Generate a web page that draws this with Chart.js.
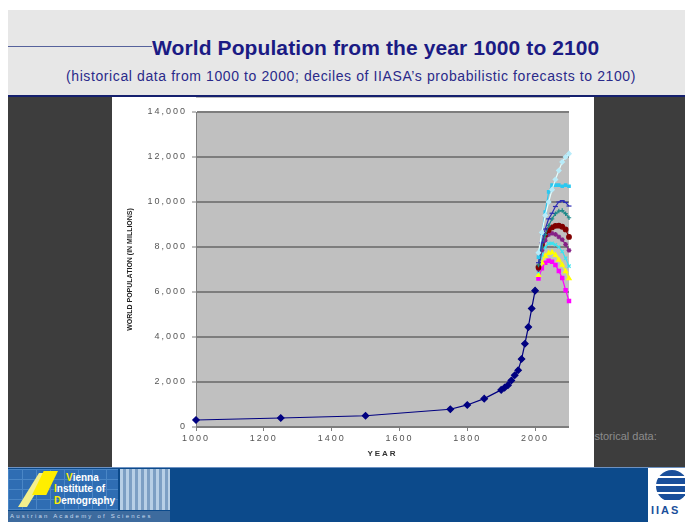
<!DOCTYPE html>
<html>
<head>
<meta charset="utf-8">
<script src="https://cdn.jsdelivr.net/npm/chart.js@4.4.1/dist/chart.umd.min.js"></script>
<style>
html,body{margin:0;padding:0;}
body{width:685px;height:522px;position:relative;overflow:hidden;background:#ffffff;font-family:"Liberation Sans",Arial,sans-serif;}
.abs{position:absolute;}
#header{left:8px;top:10px;width:677px;height:85px;background:#e7e7e7;}
#hline{left:8px;top:46px;width:144px;height:1px;background:#56629c;}
#title{left:152px;top:36px;font-size:21px;font-weight:bold;color:#1b1b84;white-space:nowrap;line-height:24px;letter-spacing:0.1px;}
#subtitle{left:66px;top:68px;font-size:14px;color:#2a2a8a;white-space:nowrap;line-height:16px;letter-spacing:0.6px;}
#band{left:8px;top:95px;width:677px;height:2px;background:#15206e;}
#body{left:8px;top:97px;width:677px;height:370px;background:#3d3d3d;}
#hist{left:584px;top:430px;font-size:11px;color:#8c8c8c;white-space:nowrap;}
#panel{left:112px;top:97px;width:482px;height:370px;background:#ffffff;}
#chart{position:absolute;left:0;top:0;}
#footer{left:8px;top:467px;width:677px;height:55px;background:#0c4a8b;border-top:1px solid #6d92c2;box-sizing:border-box;}
#vid{left:8px;top:469px;width:110px;height:41px;background:#2f6db3;overflow:hidden;
  background-image:linear-gradient(#4a86c6 1px,transparent 1px),linear-gradient(90deg,#4a86c6 1px,transparent 1px);background-size:100% 10px,14px 100%;}
#y1{left:10px;top:4px;width:30px;height:34px;background:#f4ef8c;clip-path:polygon(0 100%,70% 0,100% 0,30% 100%);}
#y2{left:24px;top:2px;width:26px;height:24px;background:#ffee00;clip-path:polygon(0 100%,45% 0,100% 0,55% 100%);}
.vt{left:46px;font-size:10px;font-weight:bold;color:#ffffff;white-space:nowrap;line-height:11px;}
.vt b{color:#ffee00;}
#bld{left:120px;top:469px;width:50px;height:41px;background:#8eaed0;
  background-image:repeating-linear-gradient(90deg,#b8cfe6 0 3px,#7d9fc4 3px 6px);}
#aas{left:8px;top:511px;width:162px;height:11px;background:#3d6b9e;color:#c9dbee;font-size:6px;letter-spacing:2.2px;line-height:11px;white-space:nowrap;overflow:hidden;padding-left:2px;box-sizing:border-box;}
#iiasa{left:648px;top:468px;width:37px;height:54px;background:#ffffff;overflow:hidden;}
#globe{left:8px;top:2px;width:32px;height:32px;border-radius:50%;background:#1a4f9b;
  background-image:repeating-linear-gradient(180deg,#1a4f9b 0 6px,#ffffff 6px 8px);}
#iiasaT{left:3px;top:36px;font-size:11px;color:#1a4f9b;letter-spacing:2px;font-weight:bold;}
</style>
</head>
<body>
<div id="header" class="abs"></div>
<div id="hline" class="abs"></div>
<div id="title" class="abs">World Population from the year 1000 to 2100</div>
<div id="subtitle" class="abs">(historical data from 1000 to 2000; deciles of IIASA’s probabilistic forecasts to 2100)</div>
<div id="band" class="abs"></div>
<div id="body" class="abs"></div>
<div id="hist" class="abs">Historical data:</div>
<div id="panel" class="abs"><canvas id="chart" width="482" height="370"></canvas></div>
<div id="footer" class="abs"></div>
<div id="vid" class="abs">
  <div id="y1" class="abs"></div>
  <div id="y2" class="abs"></div>
  <div class="abs vt" style="left:58px;top:3px;"><b>V</b>ienna</div>
  <div class="abs vt" style="top:14px;"><b>I</b>nstitute of</div>
  <div class="abs vt" style="top:26px;"><b>D</b>emography</div>
</div>
<div id="bld" class="abs"></div>
<div id="aas" class="abs">Austrian Academy of Sciences</div>
<div id="iiasa" class="abs"><div id="globe" class="abs"></div><div id="iiasaT" class="abs">IIAS</div></div>

<script>
// ---- data ----
const historicalYears = [1000,1250,1500,1750,1800,1850,1900,1910,1920,1930,1940,1950,1960,1970,1980,1990,2000];
const historicalPop   = [310,400,500,790,980,1260,1650,1750,1860,2070,2300,2520,3020,3700,4440,5270,6060];

const forecastYears = [2010,2020,2030,2040,2050,2060,2070,2080,2090,2100];
const decile10 = [6600,7050,7300,7390,7340,7200,6930,6620,6080,5600];
const decile20 = [6750,7300,7600,7730,7760,7640,7430,7200,6920,6600];
const decile30 = [6900,7650,8000,8150,8160,8100,8000,7800,7500,7150];
const decile40 = [7000,7850,8300,8550,8610,8560,8450,8330,8120,7850];
const decile50 = [7100,8100,8550,8750,8870,8940,8950,8900,8780,8450];
const decile60 = [7200,8000,8550,8950,9250,9480,9600,9620,9480,9300];
const decile70 = [7300,8200,8800,9250,9500,9800,10000,10060,9980,9820];
const decile80 = [7550,8600,9550,10450,10750,10750,10750,10700,10750,10700];
const decile90 = [7750,8650,9400,10000,10550,11000,11400,11780,12000,12150];

const xTickValues = [1000,1200,1400,1600,1800,2000];
const yTickValues = [0,2000,4000,6000,8000,10000,12000,14000];
const xAxisTitle = 'YEAR';
const yAxisTitle = 'WORLD POPULATION (IN MILLIONS)';

// ---- helpers ----
const pts = (xs, ys) => xs.map((x, i) => ({x: x, y: ys[i]}));
function series(label, xs, ys, color, style, radius, pointColor) {
  return {
    label: label,
    data: pts(xs, ys),
    borderColor: color,
    backgroundColor: pointColor || color,
    pointBorderColor: pointColor || color,
    pointBackgroundColor: pointColor || color,
    pointStyle: style,
    pointRadius: radius,
    pointBorderWidth: 1.2,
    borderWidth: 1.2,
    tension: 0,
    fill: false,
    clip: false
  };
}

const plotBg = {
  id: 'plotBg',
  beforeDraw(c) {
    const a = c.chartArea, ctx = c.ctx;
    ctx.save();
    ctx.fillStyle = '#c0c0c0';
    ctx.fillRect(a.left, a.top, a.right - a.left, a.bottom - a.top);
    ctx.restore();
  }
};
const spacing = {
  id: 'spacing',
  afterDatasetsDraw(c) { c.ctx.letterSpacing = '2px'; },
  afterDraw(c) { c.ctx.letterSpacing = '0px'; }
};

new Chart(document.getElementById('chart'), {
  type: 'line',
  data: {
    datasets: [
      series('Historical', historicalYears, historicalPop, '#000080', 'rectRot', 3.2),
      series('90%', forecastYears, decile90, '#e4ffff', 'rectRot', 2.2, '#b8ecfa'),
      series('80%', forecastYears, decile80, '#2cc8f0', 'rect', 1.7),
      series('70%', forecastYears, decile70, '#2c2cb4', 'line', 2.5),
      series('60%', forecastYears, decile60, '#1f8a8a', 'cross', 2.2),
      series('50%', forecastYears, decile50, '#800000', 'circle', 2.3),
      series('40%', forecastYears, decile40, '#862286', 'star', 2.4),
      series('30%', forecastYears, decile30, '#38e4f0', 'crossRot', 2.3),
      series('20%', forecastYears, decile20, '#ffff00', 'triangle', 2.5),
      series('10%', forecastYears, decile10, '#ff00ff', 'rect', 2.3)
    ]
  },
  options: {
    responsive: false,
    animation: false,
    devicePixelRatio: 1,
    layout: { padding: { left: 10, right: 25, top: 15, bottom: 0 } },
    plugins: { legend: { display: false }, tooltip: { enabled: false } },
    scales: {
      x: {
        type: 'linear',
        min: 1000,
        max: 2100,
        afterBuildTicks: s => { s.ticks = xTickValues.map(v => ({value: v})); },
        afterFit: s => { s.height = 40; },
        ticks: {
          z: 1,
          padding: 2,
          color: '#555555',
          font: { family: '"Liberation Sans", Arial, sans-serif', size: 9 },
          callback: v => String(v),
          maxRotation: 0
        },
        grid: { z: 1, drawOnChartArea: false, drawTicks: true, tickLength: 4, color: '#7d7d7d', lineWidth: 1 },
        border: { display: true, color: '#7d7d7d', width: 1 },
        title: {
          display: true, text: xAxisTitle, color: '#333333',
          font: { family: '"Liberation Sans", Arial, sans-serif', size: 8, weight: 'bold' },
          padding: { top: 0, bottom: 8 }
        }
      },
      y: {
        type: 'linear',
        min: 0,
        max: 14000,
        afterBuildTicks: s => { s.ticks = yTickValues.map(v => ({value: v})); },
        afterFit: s => { s.width = 74; },
        ticks: {
          z: 1,
          padding: 5,
          color: '#555555',
          font: { family: '"Liberation Sans", Arial, sans-serif', size: 9 },
          callback: v => Number(v).toLocaleString('en-US')
        },
        grid: { color: '#7d7d7d', lineWidth: 2, drawTicks: true, tickLength: 4, tickWidth: 1 },
        border: { display: true, color: '#7d7d7d', width: 1 },
        title: {
          display: true, text: yAxisTitle, color: '#222222',
          font: { family: '"Liberation Sans", Arial, sans-serif', size: 7, weight: 'bold' },
          padding: { top: 4, bottom: 0 }
        }
      }
    }
  },
  plugins: [plotBg, spacing]
});
</script>
</body>
</html>
